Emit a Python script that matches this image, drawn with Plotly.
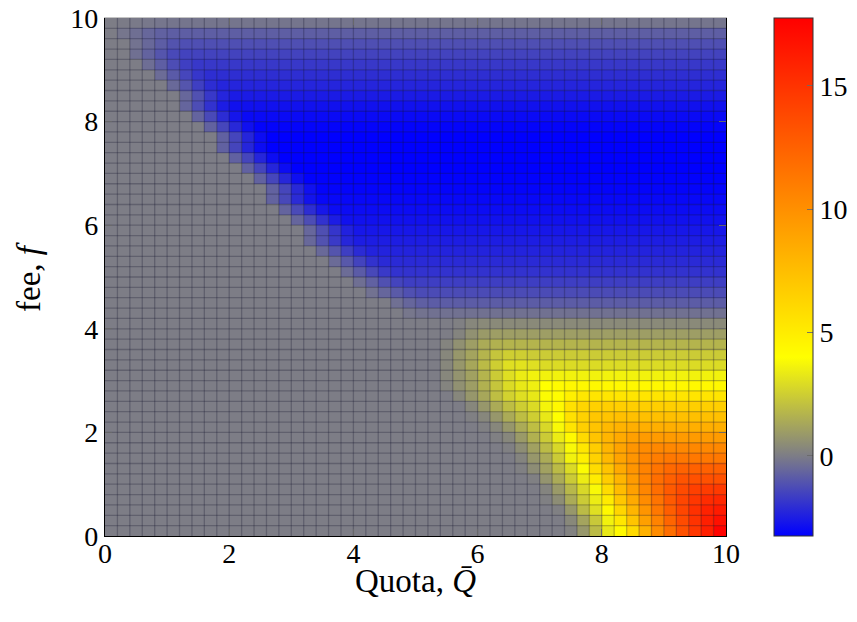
import numpy as np
import plotly.graph_objects as go

# cell centres (Quota on x, fee on y)
quota = [0.1,0.3,0.5,0.7,0.9,1.1,1.3,1.5,1.7,1.9,2.1,2.3,2.5,2.7,2.9,3.1,3.3,3.5,3.7,3.9,
         4.1,4.3,4.5,4.7,4.9,5.1,5.3,5.5,5.7,5.9,6.1,6.3,6.5,6.7,6.9,7.1,7.3,7.5,7.7,7.9,
         8.1,8.3,8.5,8.7,8.9,9.1,9.3,9.5,9.7,9.9]
fee = [0.1,0.3,0.5,0.7,0.9,1.1,1.3,1.5,1.7,1.9,2.1,2.3,2.5,2.7,2.9,3.1,3.3,3.5,3.7,3.9,
       4.1,4.3,4.5,4.7,4.9,5.1,5.3,5.5,5.7,5.9,6.1,6.3,6.5,6.7,6.9,7.1,7.3,7.5,7.7,7.9,
       8.1,8.3,8.5,8.7,8.9,9.1,9.3,9.5,9.7,9.9]

x_ticks = [0, 2, 4, 6, 8, 10]
y_ticks = [0, 2, 4, 6, 8, 10]
cbar_ticks = [0, 5, 10, 15]
z_min, z_max = -3.25, 17.75

# rows from fee=0.1 (bottom) to fee=9.9 (top), 50 quota columns each
z_values = [
 [0,0,0,0,0,0,0,0,0,0, 0,0,0,0,0,0,0,0,0,0, 0,0,0,0,0,0,0,0,0,0, 0,0,0,0,0,0,0,0.15,0.8,1.9, 3.3,4.3,6.0,8.2,10.2,11.8,13.4,14.8,16.1,17.6],
 [0,0,0,0,0,0,0,0,0,0, 0,0,0,0,0,0,0,0,0,0, 0,0,0,0,0,0,0,0,0,0, 0,0,0,0,0,0,0,0.35,1.2,2.3, 3.6,5.3,7.2,9.1,10.7,12.3,13.7,15.0,16.1,16.9],
 [0,0,0,0,0,0,0,0,0,0, 0,0,0,0,0,0,0,0,0,0, 0,0,0,0,0,0,0,0,0,0, 0,0,0,0,0,0,0.1,0.8,1.9,3.0, 4.3,6.2,8.0,9.7,11.3,12.7,14.0,15.1,15.9,16.3],
 [0,0,0,0,0,0,0,0,0,0, 0,0,0,0,0,0,0,0,0,0, 0,0,0,0,0,0,0,0,0,0, 0,0,0,0,0,0.1,0.5,1.4,2.4,3.4, 5.1,7.0,8.6,10.2,11.5,12.9,14.0,14.8,15.4,15.6],
 [0,0,0,0,0,0,0,0,0,0, 0,0,0,0,0,0,0,0,0,0, 0,0,0,0,0,0,0,0,0,0, 0,0,0,0,0,0.2,0.9,1.8,2.8,3.8, 5.9,7.6,9.1,10.5,11.8,12.9,13.7,14.3,14.5,14.6],
 [0,0,0,0,0,0,0,0,0,0, 0,0,0,0,0,0,0,0,0,0, 0,0,0,0,0,0,0,0,0,0, 0,0,0,0,0.1,0.7,1.4,2.4,3.4,5.1, 6.7,8.0,9.4,10.7,11.8,12.6,13.2,13.4,13.4,13.4],
 [0,0,0,0,0,0,0,0,0,0, 0,0,0,0,0,0,0,0,0,0, 0,0,0,0,0,0,0,0,0,0, 0,0,0,0.1,0.5,1.1,1.9,2.9,3.9,5.9, 7.2,8.6,9.7,10.7,11.5,12.1,12.4,12.5,12.5,12.5],
 [0,0,0,0,0,0,0,0,0,0, 0,0,0,0,0,0,0,0,0,0, 0,0,0,0,0,0,0,0,0,0, 0,0,0,0.2,0.8,1.4,2.4,3.6,4.8,6.4, 7.8,8.9,9.7,10.5,11.0,11.3,11.3,11.3,11.3,11.3],
 [0,0,0,0,0,0,0,0,0,0, 0,0,0,0,0,0,0,0,0,0, 0,0,0,0,0,0,0,0,0,0, 0,0,0.1,0.5,1.1,1.9,2.8,3.8,5.3,6.7, 8.0,8.9,9.7,10.2,10.4,10.4,10.4,10.4,10.4,10.4],
 [0,0,0,0,0,0,0,0,0,0, 0,0,0,0,0,0,0,0,0,0, 0,0,0,0,0,0,0,0,0,0, 0,0.1,0.3,0.9,1.6,2.4,3.4,4.3,6.0,7.2, 8.0,8.6,9.1,9.4,9.4,9.4,9.4,9.4,9.4,9.4],
 [0,0,0,0,0,0,0,0,0,0, 0,0,0,0,0,0,0,0,0,0, 0,0,0,0,0,0,0,0,0,0, 0.1,0.3,0.8,1.4,2.0,2.8,3.8,5.4,6.6,7.2, 7.8,8.1,8.3,8.3,8.3,8.3,8.3,8.3,8.3,8.3],
 [0,0,0,0,0,0,0,0,0,0, 0,0,0,0,0,0,0,0,0,0, 0,0,0,0,0,0,0,0,0,0.1, 0.3,0.8,1.4,2.0,2.5,3.3,4.0,5.6,6.4,7.0, 7.2,7.4,7.4,7.4,7.4,7.4,7.4,7.4,7.4,7.4],
 [0,0,0,0,0,0,0,0,0,0, 0,0,0,0,0,0,0,0,0,0, 0,0,0,0,0,0,0,0,0,0.3, 0.8,1.4,2.0,2.5,2.9,3.7,4.3,5.6,6.2,6.5, 6.6,6.6,6.6,6.6,6.6,6.6,6.6,6.6,6.6,6.6],
 [0,0,0,0,0,0,0,0,0,0, 0,0,0,0,0,0,0,0,0,0, 0,0,0,0,0,0,0,0,0.3,0.8, 1.3,2.0,2.6,3.0,3.3,3.9,4.1,4.8,5.3,5.4, 5.4,5.4,5.4,5.4,5.4,5.4,5.4,5.4,5.4,5.4],
 [0,0,0,0,0,0,0,0,0,0, 0,0,0,0,0,0,0,0,0,0, 0,0,0,0,0,0,0,0.2,0.6,1.0, 1.6,2.2,2.9,3.3,3.5,4.0,4.2,4.4,4.4,4.4, 4.4,4.4,4.4,4.4,4.4,4.4,4.4,4.4,4.4,4.4],
 [0,0,0,0,0,0,0,0,0,0, 0,0,0,0,0,0,0,0,0,0, 0,0,0,0,0,0,0,0.3,0.7,1.1, 1.7,2.4,3.0,3.4,3.6,3.6,3.6,3.6,3.6,3.6, 3.6,3.6,3.6,3.6,3.6,3.6,3.6,3.6,3.6,3.6],
 [0,0,0,0,0,0,0,0,0,0, 0,0,0,0,0,0,0,0,0,0, 0,0,0,0,0,0,0,0.3,0.8,1.3, 1.9,2.5,3.0,3.1,3.0,2.9,2.9,2.9,2.9,2.9, 2.9,2.9,2.9,2.9,2.9,2.9,2.9,2.9,2.9,2.9],
 [0,0,0,0,0,0,0,0,0,0, 0,0,0,0,0,0,0,0,0,0, 0,0,0,0,0,0,0,0.3,0.8,1.2, 1.7,2.2,2.5,2.5,2.4,2.4,2.4,2.4,2.4,2.4, 2.4,2.4,2.4,2.4,2.4,2.4,2.4,2.4,2.4,2.4],
 [0,0,0,0,0,0,0,0,0,0, 0,0,0,0,0,0,0,0,0,0, 0,0,0,0,0,0,0,0.2,0.6,1.0, 1.4,1.6,1.7,1.7,1.7,1.7,1.7,1.7,1.7,1.7, 1.7,1.7,1.7,1.7,1.7,1.7,1.7,1.7,1.7,1.7],
 [0,0,0,0,0,0,0,0,0,0, 0,0,0,0,0,0,0,0,0,0, 0,0,0,0,0,0,0,0,0.2,0.6, 0.9,1.0,1.0,1.0,1.0,1.0,1.0,1.0,1.0,1.0, 1.0,1.0,1.0,1.0,1.0,1.0,1.0,1.0,1.0,1.0],
 [0,0,0,0,0,0,0,0,0,0, 0,0,0,0,0,0,0,0,0,0, 0,0,0,0,0,0,0,0,0.1,0.3, 0.4,0.4,0.4,0.4,0.4,0.4,0.4,0.4,0.4,0.4, 0.4,0.4,0.4,0.4,0.4,0.4,0.4,0.4,0.4,0.4],
 [0,0,0,0,0,0,0,0,0,0, 0,0,0,0,0,0,0,0,0,0, 0,0,0,0,-0.15,-0.25,-0.3,-0.3,-0.3,-0.3, -0.3,-0.3,-0.3,-0.3,-0.3,-0.3,-0.3,-0.3,-0.3,-0.3, -0.3,-0.3,-0.3,-0.3,-0.3,-0.3,-0.3,-0.3,-0.3,-0.3],
 [0,0,0,0,0,0,0,0,0,0, 0,0,0,0,0,0,0,0,0,0, 0,0,0,-0.35,-0.6,-0.78,-0.85,-0.85,-0.85,-0.85, -0.85,-0.85,-0.85,-0.85,-0.85,-0.85,-0.85,-0.85,-0.85,-0.85, -0.85,-0.85,-0.85,-0.85,-0.85,-0.85,-0.85,-0.85,-0.85,-0.85],
 [0,0,0,0,0,0,0,0,0,0, 0,0,0,0,0,0,0,0,0,0, 0,-0.29,-0.59,-0.91,-1.17,-1.3,-1.3,-1.3,-1.3,-1.3, -1.3,-1.3,-1.3,-1.3,-1.3,-1.3,-1.3,-1.3,-1.3,-1.3, -1.3,-1.3,-1.3,-1.3,-1.3,-1.3,-1.3,-1.3,-1.3,-1.3],
 [0,0,0,0,0,0,0,0,0,0, 0,0,0,0,0,0,0,0,0,0, -0.36,-0.74,-1.16,-1.49,-1.65,-1.65,-1.65,-1.65,-1.65,-1.65, -1.65,-1.65,-1.65,-1.65,-1.65,-1.65,-1.65,-1.65,-1.65,-1.65, -1.65,-1.65,-1.65,-1.65,-1.65,-1.65,-1.65,-1.65,-1.65,-1.65],
 [0,0,0,0,0,0,0,0,0,0, 0,0,0,0,0,0,0,0,0,-0.43, -0.88,-1.37,-1.76,-1.95,-1.95,-1.95,-1.95,-1.95,-1.95,-1.95, -1.95,-1.95,-1.95,-1.95,-1.95,-1.95,-1.95,-1.95,-1.95,-1.95, -1.95,-1.95,-1.95,-1.95,-1.95,-1.95,-1.95,-1.95,-1.95,-1.95],
 [0,0,0,0,0,0,0,0,0,0, 0,0,0,0,0,0,0,0,-0.47,-0.97, -1.51,-1.94,-2.15,-2.15,-2.15,-2.15,-2.15,-2.15,-2.15,-2.15, -2.15,-2.15,-2.15,-2.15,-2.15,-2.15,-2.15,-2.15,-2.15,-2.15, -2.15,-2.15,-2.15,-2.15,-2.15,-2.15,-2.15,-2.15,-2.15,-2.15],
 [0,0,0,0,0,0,0,0,0,0, 0,0,0,0,0,0,0,-0.52,-1.06,-1.65, -2.12,-2.35,-2.35,-2.35,-2.35,-2.35,-2.35,-2.35,-2.35,-2.35, -2.35,-2.35,-2.35,-2.35,-2.35,-2.35,-2.35,-2.35,-2.35,-2.35, -2.35,-2.35,-2.35,-2.35,-2.35,-2.35,-2.35,-2.35,-2.35,-2.35],
 [0,0,0,0,0,0,0,0,0,0, 0,0,0,0,0,0,-0.55,-1.13,-1.75,-2.25, -2.5,-2.5,-2.5,-2.5,-2.5,-2.5,-2.5,-2.5,-2.5,-2.5, -2.5,-2.5,-2.5,-2.5,-2.5,-2.5,-2.5,-2.5,-2.5,-2.5, -2.5,-2.5,-2.5,-2.5,-2.5,-2.5,-2.5,-2.5,-2.5,-2.5],
 [0,0,0,0,0,0,0,0,0,0, 0,0,0,0,0,0,-0.58,-1.19,-1.86,-2.39, -2.65,-2.65,-2.65,-2.65,-2.65,-2.65,-2.65,-2.65,-2.65,-2.65, -2.65,-2.65,-2.65,-2.65,-2.65,-2.65,-2.65,-2.65,-2.65,-2.65, -2.65,-2.65,-2.65,-2.65,-2.65,-2.65,-2.65,-2.65,-2.65,-2.65],
 [0,0,0,0,0,0,0,0,0,0, 0,0,0,0,0,-0.62,-1.26,-1.96,-2.52,-2.8, -2.8,-2.8,-2.8,-2.8,-2.8,-2.8,-2.8,-2.8,-2.8,-2.8, -2.8,-2.8,-2.8,-2.8,-2.8,-2.8,-2.8,-2.8,-2.8,-2.8, -2.8,-2.8,-2.8,-2.8,-2.8,-2.8,-2.8,-2.8,-2.8,-2.8],
 [0,0,0,0,0,0,0,0,0,0, 0,0,0,0,-0.65,-1.33,-2.07,-2.66,-2.95,-2.95, -2.95,-2.95,-2.95,-2.95,-2.95,-2.95,-2.95,-2.95,-2.95,-2.95, -2.95,-2.95,-2.95,-2.95,-2.95,-2.95,-2.95,-2.95,-2.95,-2.95, -2.95,-2.95,-2.95,-2.95,-2.95,-2.95,-2.95,-2.95,-2.95,-2.95],
 [0,0,0,0,0,0,0,0,0,0, 0,0,0,-0.67,-1.37,-2.14,-2.75,-3.05,-3.05,-3.05, -3.05,-3.05,-3.05,-3.05,-3.05,-3.05,-3.05,-3.05,-3.05,-3.05, -3.05,-3.05,-3.05,-3.05,-3.05,-3.05,-3.05,-3.05,-3.05,-3.05, -3.05,-3.05,-3.05,-3.05,-3.05,-3.05,-3.05,-3.05,-3.05,-3.05],
 [0,0,0,0,0,0,0,0,0,0, 0,0,0,-0.69,-1.42,-2.2,-2.84,-3.15,-3.15,-3.15, -3.15,-3.15,-3.15,-3.15,-3.15,-3.15,-3.15,-3.15,-3.15,-3.15, -3.15,-3.15,-3.15,-3.15,-3.15,-3.15,-3.15,-3.15,-3.15,-3.15, -3.15,-3.15,-3.15,-3.15,-3.15,-3.15,-3.15,-3.15,-3.15,-3.15],
 [0,0,0,0,0,0,0,0,0,0, 0,0,-0.7,-1.44,-2.24,-2.88,-3.2,-3.2,-3.2,-3.2, -3.2,-3.2,-3.2,-3.2,-3.2,-3.2,-3.2,-3.2,-3.2,-3.2, -3.2,-3.2,-3.2,-3.2,-3.2,-3.2,-3.2,-3.2,-3.2,-3.2, -3.2,-3.2,-3.2,-3.2,-3.2,-3.2,-3.2,-3.2,-3.2,-3.2],
 [0,0,0,0,0,0,0,0,0,0, 0,-0.72,-1.46,-2.28,-2.93,-3.25,-3.25,-3.25,-3.25,-3.25, -3.25,-3.25,-3.25,-3.25,-3.25,-3.25,-3.25,-3.25,-3.25,-3.25, -3.25,-3.25,-3.25,-3.25,-3.25,-3.25,-3.25,-3.25,-3.25,-3.25, -3.25,-3.25,-3.25,-3.25,-3.25,-3.25,-3.25,-3.25,-3.25,-3.25],
 [0,0,0,0,0,0,0,0,0,0, -0.72,-1.46,-2.28,-2.93,-3.25,-3.25,-3.25,-3.25,-3.25,-3.25, -3.25,-3.25,-3.25,-3.25,-3.25,-3.25,-3.25,-3.25,-3.25,-3.25, -3.25,-3.25,-3.25,-3.25,-3.25,-3.25,-3.25,-3.25,-3.25,-3.25, -3.25,-3.25,-3.25,-3.25,-3.25,-3.25,-3.25,-3.25,-3.25,-3.25],
 [0,0,0,0,0,0,0,0,0,-0.72, -1.46,-2.28,-2.93,-3.25,-3.25,-3.25,-3.25,-3.25,-3.25,-3.25, -3.25,-3.25,-3.25,-3.25,-3.25,-3.25,-3.25,-3.25,-3.25,-3.25, -3.25,-3.25,-3.25,-3.25,-3.25,-3.25,-3.25,-3.25,-3.25,-3.25, -3.25,-3.25,-3.25,-3.25,-3.25,-3.25,-3.25,-3.25,-3.25,-3.25],
 [0,0,0,0,0,0,0,0,0,-0.72, -1.46,-2.28,-2.93,-3.25,-3.25,-3.25,-3.25,-3.25,-3.25,-3.25, -3.25,-3.25,-3.25,-3.25,-3.25,-3.25,-3.25,-3.25,-3.25,-3.25, -3.25,-3.25,-3.25,-3.25,-3.25,-3.25,-3.25,-3.25,-3.25,-3.25, -3.25,-3.25,-3.25,-3.25,-3.25,-3.25,-3.25,-3.25,-3.25,-3.25],
 [0,0,0,0,0,0,0,0,-0.69,-1.42, -2.2,-2.84,-3.15,-3.15,-3.15,-3.15,-3.15,-3.15,-3.15,-3.15, -3.15,-3.15,-3.15,-3.15,-3.15,-3.15,-3.15,-3.15,-3.15,-3.15, -3.15,-3.15,-3.15,-3.15,-3.15,-3.15,-3.15,-3.15,-3.15,-3.15, -3.15,-3.15,-3.15,-3.15,-3.15,-3.15,-3.15,-3.15,-3.15,-3.15],
 [0,0,0,0,0,0,0,-0.66,-1.35,-2.1, -2.7,-3.0,-3.0,-3.0,-3.0,-3.0,-3.0,-3.0,-3.0,-3.0, -3.0,-3.0,-3.0,-3.0,-3.0,-3.0,-3.0,-3.0,-3.0,-3.0, -3.0,-3.0,-3.0,-3.0,-3.0,-3.0,-3.0,-3.0,-3.0,-3.0, -3.0,-3.0,-3.0,-3.0,-3.0,-3.0,-3.0,-3.0,-3.0,-3.0],
 [0,0,0,0,0,0,-0.62,-1.26,-1.96,-2.52, -2.8,-2.8,-2.8,-2.8,-2.8,-2.8,-2.8,-2.8,-2.8,-2.8, -2.8,-2.8,-2.8,-2.8,-2.8,-2.8,-2.8,-2.8,-2.8,-2.8, -2.8,-2.8,-2.8,-2.8,-2.8,-2.8,-2.8,-2.8,-2.8,-2.8, -2.8,-2.8,-2.8,-2.8,-2.8,-2.8,-2.8,-2.8,-2.8,-2.8],
 [0,0,0,0,0,0,-0.56,-1.15,-1.79,-2.3, -2.55,-2.55,-2.55,-2.55,-2.55,-2.55,-2.55,-2.55,-2.55,-2.55, -2.55,-2.55,-2.55,-2.55,-2.55,-2.55,-2.55,-2.55,-2.55,-2.55, -2.55,-2.55,-2.55,-2.55,-2.55,-2.55,-2.55,-2.55,-2.55,-2.55, -2.55,-2.55,-2.55,-2.55,-2.55,-2.55,-2.55,-2.55,-2.55,-2.55],
 [0,0,0,0,0,-0.51,-1.04,-1.61,-2.07,-2.3, -2.3,-2.3,-2.3,-2.3,-2.3,-2.3,-2.3,-2.3,-2.3,-2.3, -2.3,-2.3,-2.3,-2.3,-2.3,-2.3,-2.3,-2.3,-2.3,-2.3, -2.3,-2.3,-2.3,-2.3,-2.3,-2.3,-2.3,-2.3,-2.3,-2.3, -2.3,-2.3,-2.3,-2.3,-2.3,-2.3,-2.3,-2.3,-2.3,-2.3],
 [0,0,0,0,-0.45,-0.92,-1.44,-1.85,-2.05,-2.05, -2.05,-2.05,-2.05,-2.05,-2.05,-2.05,-2.05,-2.05,-2.05,-2.05, -2.05,-2.05,-2.05,-2.05,-2.05,-2.05,-2.05,-2.05,-2.05,-2.05, -2.05,-2.05,-2.05,-2.05,-2.05,-2.05,-2.05,-2.05,-2.05,-2.05, -2.05,-2.05,-2.05,-2.05,-2.05,-2.05,-2.05,-2.05,-2.05,-2.05],
 [0,0,0,-0.4,-0.81,-1.26,-1.62,-1.8,-1.8,-1.8, -1.8,-1.8,-1.8,-1.8,-1.8,-1.8,-1.8,-1.8,-1.8,-1.8, -1.8,-1.8,-1.8,-1.8,-1.8,-1.8,-1.8,-1.8,-1.8,-1.8, -1.8,-1.8,-1.8,-1.8,-1.8,-1.8,-1.8,-1.8,-1.8,-1.8, -1.8,-1.8,-1.8,-1.8,-1.8,-1.8,-1.8,-1.8,-1.8,-1.8],
 [0,0,-0.33,-0.68,-1.05,-1.35,-1.5,-1.5,-1.5,-1.5, -1.5,-1.5,-1.5,-1.5,-1.5,-1.5,-1.5,-1.5,-1.5,-1.5, -1.5,-1.5,-1.5,-1.5,-1.5,-1.5,-1.5,-1.5,-1.5,-1.5, -1.5,-1.5,-1.5,-1.5,-1.5,-1.5,-1.5,-1.5,-1.5,-1.5, -1.5,-1.5,-1.5,-1.5,-1.5,-1.5,-1.5,-1.5,-1.5,-1.5],
 [0,0,-0.26,-0.54,-0.84,-1.08,-1.2,-1.2,-1.2,-1.2, -1.2,-1.2,-1.2,-1.2,-1.2,-1.2,-1.2,-1.2,-1.2,-1.2, -1.2,-1.2,-1.2,-1.2,-1.2,-1.2,-1.2,-1.2,-1.2,-1.2, -1.2,-1.2,-1.2,-1.2,-1.2,-1.2,-1.2,-1.2,-1.2,-1.2, -1.2,-1.2,-1.2,-1.2,-1.2,-1.2,-1.2,-1.2,-1.2,-1.2],
 [0,-0.18,-0.36,-0.56,-0.72,-0.8,-0.8,-0.8,-0.8,-0.8, -0.8,-0.8,-0.8,-0.8,-0.8,-0.8,-0.8,-0.8,-0.8,-0.8, -0.8,-0.8,-0.8,-0.8,-0.8,-0.8,-0.8,-0.8,-0.8,-0.8, -0.8,-0.8,-0.8,-0.8,-0.8,-0.8,-0.8,-0.8,-0.8,-0.8, -0.8,-0.8,-0.8,-0.8,-0.8,-0.8,-0.8,-0.8,-0.8,-0.8],
 [0,-0.04,-0.09,-0.14,-0.18,-0.2,-0.2,-0.2,-0.2,-0.2, -0.2,-0.2,-0.2,-0.2,-0.2,-0.2,-0.2,-0.2,-0.2,-0.2, -0.2,-0.2,-0.2,-0.2,-0.2,-0.2,-0.2,-0.2,-0.2,-0.2, -0.2,-0.2,-0.2,-0.2,-0.2,-0.2,-0.2,-0.2,-0.2,-0.2, -0.2,-0.2,-0.2,-0.2,-0.2,-0.2,-0.2,-0.2,-0.2,-0.2],
]

for k, row in enumerate(z_values):
    assert len(row) == 50, (k, len(row))
assert len(z_values) == 50

FONT = "Liberation Serif"
TICK_SIZE = 28
TITLE_SIZE = 33

span = z_max - z_min
colorscale = [
    [0.0, "rgb(0,0,255)"],
    [(0 - z_min) / span, "rgb(125,125,134)"],
    [(4 - z_min) / span, "rgb(255,255,0)"],
    [1.0, "rgb(255,0,0)"],
]

# figure geometry (page has an 8px body offset)
W, H = 857, 622
OFF = 8
L, R, T, B = 105 - OFF, 726 - OFF, 18 - OFF, 536 - OFF
cb_left, cb_right = 774 - OFF, 813 - OFF
pw = R - L

tick_grey = "rgba(105,105,105,0.9)"

fig = go.Figure()
fig.add_trace(go.Heatmap(
    x=quota, y=fee, z=z_values, zmin=z_min, zmax=z_max,
    colorscale=colorscale, zsmooth=False, hoverinfo="skip",
    colorbar=dict(
        thickness=cb_right - cb_left, thicknessmode="pixels",
        len=1, lenmode="fraction", y=0.5, yanchor="middle", ypad=0,
        x=cb_left / W, xref="container", xanchor="left", xpad=0,
        outlinewidth=1, outlinecolor="#333333",
        tickvals=cbar_ticks, ticks="inside", ticklen=6, tickwidth=1,
        tickcolor=tick_grey,
        tickfont=dict(family=FONT, size=TICK_SIZE, color="black"),
    ),
))

# faceted cell edges, drawn on the top/right companion axes
edges = np.linspace(0, 10, len(quota) + 1)[1:-1]
gx, gy = [], []
for e in edges:
    gx += [e, e, None]
    gy += [0, 10, None]
    gx += [0, 10, None]
    gy += [e, e, None]
fig.add_trace(go.Scatter(x=gx, y=gy, xaxis="x2", yaxis="y2", mode="lines",
                         hoverinfo="skip", showlegend=False,
                         line=dict(color="rgba(20,20,45,0.28)", width=1.3)))

common = dict(range=[0, 10], ticks="inside", ticklen=7, tickwidth=1,
              tickcolor=tick_grey, showgrid=False, zeroline=False,
              automargin=False,
              tickfont=dict(family=FONT, size=TICK_SIZE, color="black"))

fig.update_layout(
    xaxis=dict(tickvals=x_ticks, showline=True, linecolor="black", linewidth=1.2,
               mirror=False, ticklabelstandoff=-8, **common),
    xaxis2=dict(tickvals=x_ticks, overlaying="x", side="top", anchor="y",
                showticklabels=False, showline=True, linecolor="#c4c4c4",
                linewidth=1.2, **common),
    yaxis=dict(tickvals=y_ticks, showline=True, linecolor="black", linewidth=1.2,
               mirror=False, ticklabeloverflow="allow", **common),
    yaxis2=dict(tickvals=y_ticks, overlaying="y", side="right", anchor="x",
                showticklabels=False, showline=True, linecolor="black",
                linewidth=1.2, **common),
)

# axis titles
annotations = [
    dict(text="Quota, <i>Q\u0304</i>", xref="paper", yref="paper", x=0.5, y=0,
         xanchor="center", yanchor="middle", yshift=-45, showarrow=False,
         font=dict(family=FONT, size=TITLE_SIZE, color="black")),
    dict(text="fee, <i>f</i>", xref="paper", yref="paper", x=0, y=0.5,
         xanchor="center", yanchor="middle", xshift=-76, textangle=-90,
         showarrow=False, font=dict(family=FONT, size=TITLE_SIZE, color="black")),
]

# left-side inner ticks of the colour bar
shapes = []
for v in cbar_ticks:
    yy = (v - z_min) / span
    x0 = (cb_left - L) / pw
    shapes.append(dict(type="line", xref="paper", yref="paper",
                       x0=x0, x1=x0 + 6 / pw, y0=yy, y1=yy,
                       line=dict(color=tick_grey, width=1)))

fig.update_layout(
    width=W, height=H,
    margin=dict(l=L, r=W - R, t=T, b=H - B),
    plot_bgcolor="white", paper_bgcolor="white",
    font=dict(family=FONT, size=TICK_SIZE, color="black"),
    showlegend=False, shapes=shapes, annotations=annotations,
)

fig.write_html("out.html")
